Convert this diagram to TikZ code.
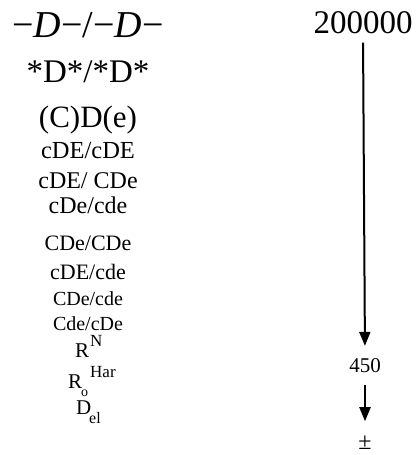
\documentclass[tikz,border=0pt]{standalone}
\usepackage{fontspec}
\setmainfont{Liberation Serif}
\usetikzlibrary{arrows.meta}
\newcommand{\fsz}[1]{\fontsize{#1}{#1}\selectfont}
\tikzset{
  txt/.style={inner sep=0pt,anchor=base},
  sub/.style={inner sep=0pt,anchor=base west},
  flow/.style={-{Triangle[length=14pt,width=11pt]},line width=2pt},
}
\begin{document}
\begin{tikzpicture}[x=1pt,y=-1pt]
  \useasboundingbox (0,0) rectangle (417,455);
  \node[txt,font=\fsz{38}] (g1) at (88,37) {−\textit{D}−/−\textit{D}−};
  \node[txt,font=\fsz{33}] (g2) at (88,82) {*D*/*D*};
  \node[txt,font=\fsz{31}] (g3) at (88,127) {(C)D(e)};
  \node[txt,font=\fsz{24.5}] (g4) at (88,158) {cDE/cDE};
  \node[txt,font=\fsz{24}] (g5) at (88,188) {cDE/ CDe};
  \node[txt,font=\fsz{24}] (g6) at (88,213) {cDe/cde};
  \node[txt,font=\fsz{22}] (g7) at (88,250) {CDe/CDe};
  \node[txt,font=\fsz{22}] (g8) at (88,279) {cDE/cde};
  \node[txt,font=\fsz{20}] (g9) at (88,305) {CDe/cde};
  \node[txt,font=\fsz{20}] (g10) at (88,330) {Cde/cDe};
  \node[sub,font=\fsz{21}] (rn) at (75,357) {R};
  \node[sub,font=\fsz{17}] (rnN) at (90,346) {N};
  \node[sub,font=\fsz{21}] (ro) at (68,388) {R};
  \node[sub,font=\fsz{17}] (roH) at (90,377) {Har};
  \node[sub,font=\fsz{14}] (roO) at (81,396) {o};
  \node[sub,font=\fsz{21}] (del) at (76,414) {D};
  \node[sub,font=\fsz{16}] (delE) at (89,423) {el};
  \node[txt,font=\fsz{33}] (top) at (363,33) {200000};
  \node[txt,font=\fsz{21}] (mid) at (365,372) {450};
  \node[txt,font=\fsz{24}] (pm) at (365,449) {±};
  \draw[flow,shorten <=9pt,shorten >=12pt] (top.south) -- (mid.north);
  \draw[flow,shorten <=13pt,shorten >=14pt] (mid.south) -- (pm.north);
\end{tikzpicture}
\end{document}
